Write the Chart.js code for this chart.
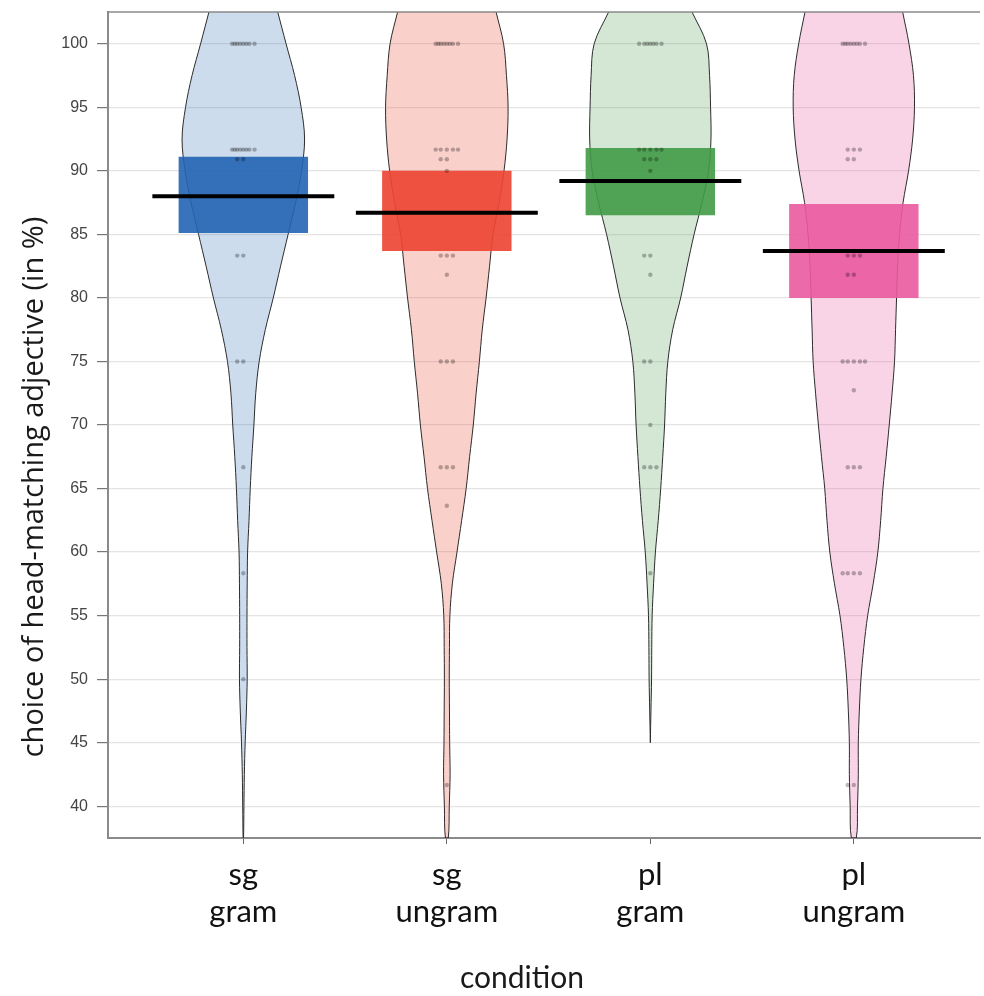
<!DOCTYPE html>
<html>
<head>
<meta charset="utf-8">
<script src="https://cdn.jsdelivr.net/npm/chart.js@4"></script>
<style>
  html, body { margin: 0; padding: 0; background: #fff; overflow: hidden; }
  #wrap { width: 984px; height: 996px; }
</style>
</head>
<body>
<div id="wrap"><canvas id="pirate"></canvas></div>
<script>
// conditions (two-line labels)
const conditions = [["sg", "gram"], ["sg", "ungram"], ["pl", "gram"], ["pl", "ungram"]];

// mean and interval band for each condition (%)
const means = [88.0, 86.7, 89.2, 83.7];
const bandLow = [85.1, 83.7, 86.5, 80.0];
const bandHigh = [91.1, 90.0, 91.8, 87.4];

// density of each bean: half width (in condition units) at each level
const densityLevels = [102.5, 100, 97.5, 95, 92.5, 90, 87.5, 85, 82.5, 80, 77.5, 75, 72.5,
  70, 67.5, 65, 62.5, 60, 57.5, 55, 52.5, 50, 47.5, 45, 42.5, 40, 37.5];
const sgGramDensity = [0.169, 0.210, 0.252, 0.284, 0.301, 0.286, 0.257, 0.220, 0.183, 0.147, 0.108, 0.078, 0.061,
  0.052, 0.042, 0.034, 0.028, 0.021, 0.019, 0.018, 0.018, 0.019, 0.015, 0.009, 0.005, 0.003, 0.001];
const sgUngramDensity = [0.242, 0.279, 0.293, 0.301, 0.296, 0.281, 0.257, 0.227, 0.210, 0.193, 0.174, 0.160, 0.144,
  0.130, 0.112, 0.095, 0.073, 0.050, 0.027, 0.015, 0.013, 0.012, 0.013, 0.014, 0.016, 0.012, 0.007];
const plGramDensity = [0.205, 0.276, 0.291, 0.296, 0.298, 0.286, 0.254, 0.215, 0.181, 0.149, 0.110, 0.086, 0.076,
  0.070, 0.061, 0.051, 0.039, 0.025, 0.016, 0.009, 0.007, 0.006, 0.003, 0, null, null, null];
const plUngramDensity = [0.240, 0.271, 0.293, 0.298, 0.289, 0.269, 0.242, 0.225, 0.215, 0.210, 0.205, 0.200, 0.188,
  0.174, 0.159, 0.143, 0.132, 0.118, 0.095, 0.068, 0.049, 0.035, 0.027, 0.022, 0.022, 0.018, 0.012];

// individual responses per condition (%)
const sgGramPoints = [100, 100, 100, 100, 100, 100, 100, 100, 91.67, 91.67, 91.67, 91.67, 91.67, 91.67, 91.67, 91.67,
  90.91, 90.91, 83.33, 83.33, 75, 75, 66.67, 58.33, 50];
const sgUngramPoints = [100, 100, 100, 100, 100, 100, 100, 100, 91.67, 91.67, 91.67, 91.67, 91.67, 90.91, 90.91, 90,
  83.33, 83.33, 83.33, 81.82, 75, 75, 75, 66.67, 66.67, 66.67, 63.64, 41.67];
const plGramPoints = [100, 100, 100, 100, 100, 100, 100, 91.67, 91.67, 91.67, 91.67, 91.67, 90.91, 90.91, 90.91, 90,
  83.33, 83.33, 81.82, 75, 75, 70, 66.67, 66.67, 66.67, 58.33];
const plUngramPoints = [100, 100, 100, 100, 100, 100, 100, 100, 91.67, 91.67, 91.67, 90.91, 90.91, 83.33, 83.33, 83.33,
  81.82, 81.82, 75, 75, 75, 75, 75, 72.73, 66.67, 66.67, 66.67, 58.33, 58.33, 58.33, 58.33, 41.67, 41.67];

const yTicks = [40, 45, 50, 55, 60, 65, 70, 75, 80, 85, 90, 95, 100];
const yTitle = "choice of head-matching adjective (in %)";
const xTitle = "condition";

const densities = [sgGramDensity, sgUngramDensity, plGramDensity, plUngramDensity];
const pointSets = [sgGramPoints, sgUngramPoints, plGramPoints, plUngramPoints];

const beanFill = ["rgba(47,108,181,0.24)", "rgba(236,80,64,0.27)", "rgba(78,160,82,0.25)", "rgba(232,100,165,0.28)"];
const barFill = ["rgba(35,100,180,0.9)", "rgba(238,70,52,0.92)", "rgba(65,155,70,0.9)", "rgba(235,90,160,0.9)"];

// closed outline of a bean: down the left side, back up the right side
function beanOutline(center, widths) {
  const left = [], right = [];
  densityLevels.forEach((lv, i) => {
    const w = widths[i];
    if (w === null) return;
    left.push({ x: center - w, y: lv });
    right.unshift({ x: center + w, y: lv });
  });
  return left.concat(right);
}

// small horizontal spread for repeated responses
const spread = [0, -0.03, 0.03, -0.055, 0.055, -0.015, 0.015, -0.042, 0.042];
function jittered(center, values) {
  const seen = {};
  return values.map(v => {
    const k = seen[v] || 0;
    seen[v] = k + 1;
    return { x: center + spread[k % spread.length], y: v };
  });
}

const datasets = [];

densities.forEach((d, i) => {
  datasets.push({
    type: "line",
    data: beanOutline(i + 1, d),
    fill: "shape",
    backgroundColor: beanFill[i],
    borderColor: "#2b2b2b",
    borderWidth: 1,
    pointRadius: 0,
    tension: 0.35,
    order: 4
  });
});

datasets.push({
  type: "bar",
  data: means.map((m, i) => ({ x: i + 1, y: [bandLow[i], bandHigh[i]] })),
  backgroundColor: barFill,
  borderWidth: 0,
  barPercentage: 0.636,
  categoryPercentage: 1,
  order: 3
});

pointSets.forEach((p, i) => {
  datasets.push({
    type: "line",
    data: jittered(i + 1, p),
    showLine: false,
    pointRadius: 2.2,
    pointBorderWidth: 0,
    pointBackgroundColor: "rgba(0,0,0,0.28)",
    order: 2
  });
});

means.forEach((m, i) => {
  datasets.push({
    type: "line",
    data: [{ x: i + 1 - 0.447, y: m }, { x: i + 1 + 0.447, y: m }],
    borderColor: "#000",
    borderWidth: 4,
    pointRadius: 0,
    order: 1
  });
});

// top frame line and the two axis titles
const framePlugin = {
  id: "frame",
  afterDraw(chart) {
    const { ctx, chartArea } = chart;
    ctx.save();
    ctx.strokeStyle = "#8a8a8a";
    ctx.lineWidth = 1.5;
    ctx.beginPath();
    ctx.moveTo(chartArea.left, chartArea.top);
    ctx.lineTo(chartArea.right, chartArea.top);
    ctx.stroke();

    ctx.fillStyle = "#1a1a1a";
    ctx.textAlign = "center";
    ctx.textBaseline = "middle";
    ctx.font = '29px "Open Sans"';
    ctx.translate(35, 487);
    ctx.rotate(-Math.PI / 2);
    ctx.fillText(yTitle, 0, 0);
    ctx.restore();

    ctx.save();
    ctx.fillStyle = "#1a1a1a";
    ctx.textAlign = "center";
    ctx.textBaseline = "middle";
    ctx.font = "30px Lato";
    ctx.fillText(xTitle, 522, 978);
    ctx.restore();
  }
};

new Chart(document.getElementById("pirate"), {
  type: "bar",
  data: { datasets },
  options: {
    responsive: true,
    maintainAspectRatio: false,
    animation: false,
    layout: { padding: { top: 12, right: 0, left: 0, bottom: 0 } },
    plugins: {
      legend: { display: false },
      tooltip: { enabled: false }
    },
    scales: {
      x: {
        type: "linear",
        min: 0.335,
        max: 4.62,
        offset: false,
        afterBuildTicks: (scale) => { scale.ticks = conditions.map((c, i) => ({ value: i + 1 })); },
        afterFit: (scale) => { scale.height = 158; scale.paddingLeft = 0; scale.paddingRight = 0; },
        ticks: {
          callback: (v) => conditions[v - 1],
          font: { family: "Lato", size: 31 },
          color: "#111",
          padding: 12,
          maxRotation: 0
        },
        grid: { offset: false, drawOnChartArea: false, tickLength: 6, color: "#666" },
        border: { color: "#8a8a8a", width: 2 }
      },
      y: {
        min: 37.5,
        max: 102.5,
        afterBuildTicks: (scale) => { scale.ticks = yTicks.map(v => ({ value: v })); },
        afterFit: (scale) => { scale.width = 108; scale.paddingTop = 0; scale.paddingBottom = 0; },
        ticks: {
          font: { family: "Liberation Sans", size: 16 },
          color: "#444",
          padding: 9
        },
        grid: { color: "#e4e4e4", lineWidth: 1.2, tickLength: 11, tickColor: "#777" },
        border: { color: "#8a8a8a", width: 2 }
      }
    }
  },
  plugins: [framePlugin]
});
</script>
</body>
</html>
